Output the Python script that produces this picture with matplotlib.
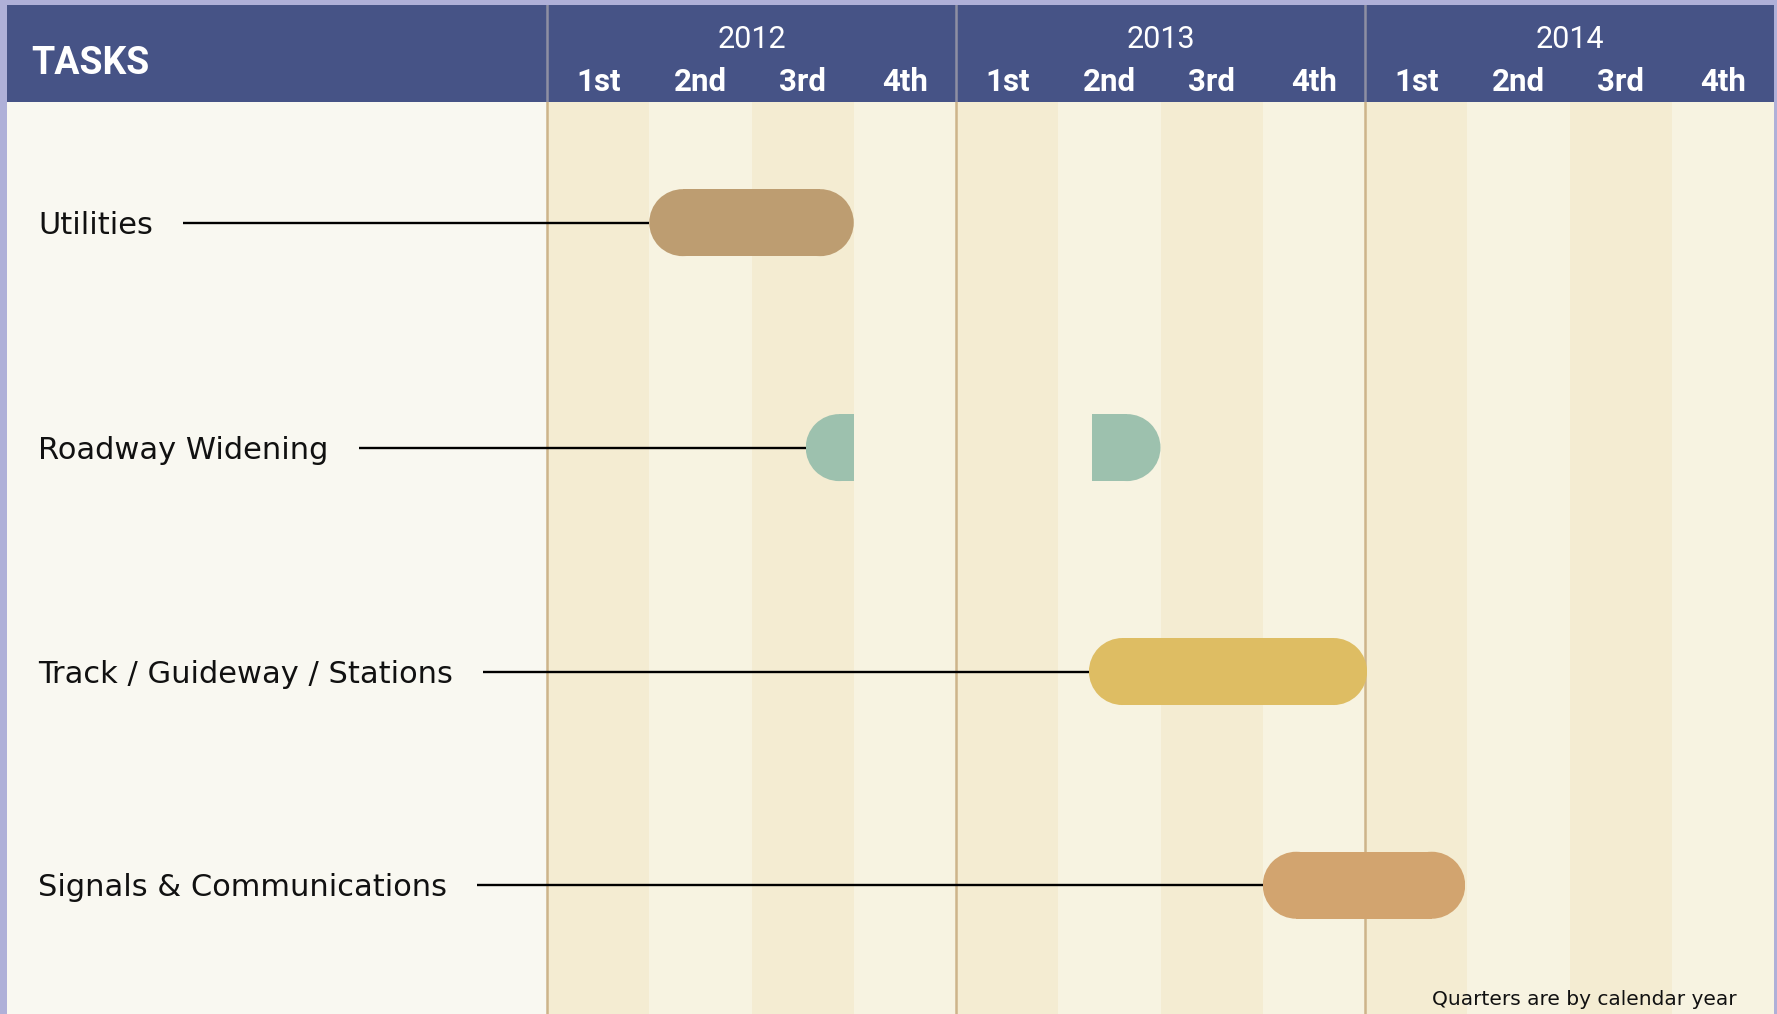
import matplotlib
matplotlib.use("Agg")
import matplotlib.pyplot as plt
from matplotlib.patches import Circle, Rectangle
from matplotlib import transforms

# data: time measured in quarters from start of 2012
years = ["2012", "2013", "2014"]
quarters = ["1st", "2nd", "3rd", "4th"]
tasks = ["Utilities", "Roadway Widening", "Track / Guideway / Stations",
         "Signals & Communications"]
seg_start = [[1.0], [2.53, 5.33], [5.30], [7.0]]
seg_end = [[3.0], [3.0, 6.0], [8.02], [8.98]]
round_left = [[True], [True, False], [True], [True]]
round_right = [[True], [False, True], [True], [True]]
task_colors = ["#BD9D71", "#9DC1AE", "#DEBD63", "#D2A46F"]

W, H = 1777, 1014
BORDER = "#AFB0D8"
HEADER = "#465386"
PANEL = "#F9F8F1"
STRIPE_DARK = "#F4ECD2"
STRIPE_LIGHT = "#F7F3E1"
DIVIDER = "#CDB48A"

# layout in pixels
left_px, right_px, top_px, head_px = 7, 1774, 5, 102
t0_px = 547
qw_px = (right_px - t0_px) / 12
row_y = [1.18, 3.38, 5.57, 7.66]
bar_h = 0.655

fig = plt.figure(figsize=(W / 100, H / 100), dpi=100)
fig.patch.set_facecolor(BORDER)

# body axes (same units in x and y so the round caps are circles)
ax = fig.add_axes([left_px / W, 0, (right_px - left_px) / W, (H - head_px) / H])
ax.set_facecolor(PANEL)
x_lo = (left_px - t0_px) / qw_px
ax.set_xlim(x_lo, 12)
ax.set_ylim((H - head_px) / qw_px, 0)
ax.axis("off")
ax.add_patch(Rectangle((x_lo, 0), 12 - x_lo, 20, color=PANEL, zorder=0))

for q in range(12):
    ax.axvspan(q, q + 1, color=STRIPE_DARK if q % 2 == 0 else STRIPE_LIGHT,
               lw=0, zorder=1)
for y in range(len(years)):
    ax.axvline(4 * y, color=DIVIDER, lw=1.8, zorder=2)

lab_font = ["DejaVu Sans"]
lab_tr = transforms.offset_copy(ax.get_yaxis_transform(), fig=fig,
                                y=-8.0, units="points")
fig.canvas.draw()
renderer = fig.canvas.get_renderer()
r = bar_h / 2
for i, name in enumerate(tasks):
    y = row_y[i]
    t = ax.text(0.0178, y, name, transform=lab_tr, ha="left", va="baseline",
                fontsize=22, family=lab_font, color="#111111", zorder=5)
    bb = t.get_window_extent(renderer=renderer)
    x_text_end = ax.transData.inverted().transform((bb.x1 + 30, 0))[0]
    ax.plot([x_text_end, seg_start[i][0]], [y, y], color="black", lw=1.7,
            zorder=3, solid_capstyle="butt")
    for s, e, rl, rr in zip(seg_start[i], seg_end[i], round_left[i], round_right[i]):
        clip = Rectangle((s, y - r - 0.1), e - s, bar_h + 0.2,
                         transform=ax.transData)
        x0 = s + r if rl else s
        x1 = e - r if rr else e
        parts = [Rectangle((x0, y - r), max(x1 - x0, 0), bar_h)]
        if rl:
            parts.append(Circle((s + r, y), r))
        if rr:
            parts.append(Circle((e - r, y), r))
        for p in parts:
            p.set_facecolor(task_colors[i])
            p.set_edgecolor("none")
            p.set_zorder(4)
            ax.add_patch(p)
            p.set_clip_path(clip)

# header axes
hx = fig.add_axes([left_px / W, 1 - head_px / H, (right_px - left_px) / W,
                   (head_px - top_px) / H])
hx.set_facecolor(HEADER)
hx.set_xlim(x_lo, 12)
hx.set_ylim(0, 1)
hx.set_xticks([])
hx.set_yticks([])
for sp in hx.spines.values():
    sp.set_visible(False)

narrow = ["Liberation Sans Narrow", "Roboto", "DejaVu Sans"]
hx.text(0.014, 0.29, "TASKS", transform=hx.transAxes, color="white",
        fontsize=27, fontweight="bold", family=narrow, va="baseline")
for y, yr in enumerate(years):
    hx.axvline(4 * y, color="#8E8FA3", lw=1.8)
    hx.text(4 * y + 2, 0.56, yr, color="white", fontsize=22, family=narrow,
            ha="center", va="baseline")
    for q, ql in enumerate(quarters):
        hx.text(4 * y + q + 0.5, 0.117, ql, color="white", fontsize=22.5,
                fontweight="bold", family=narrow, ha="center", va="baseline")

fig.text(1737 / W, 9 / H, "Quarters are by calendar year", ha="right",
         va="baseline", fontsize=14.5, family=lab_font, color="#111111")

fig.savefig("out.png", dpi=100, facecolor=BORDER)
